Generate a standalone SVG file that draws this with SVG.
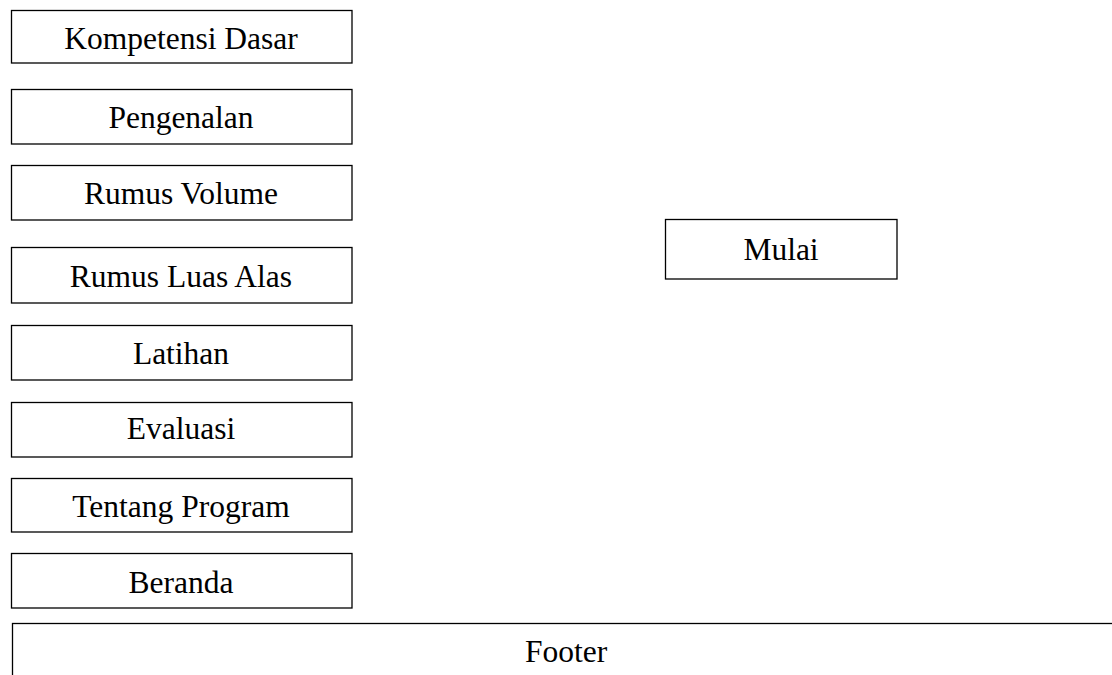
<svg xmlns="http://www.w3.org/2000/svg" width="1112" height="675" viewBox="0 0 1112 675">
  <style>
    .box { fill: #ffffff; stroke: #000000; stroke-width: 1.3; }
    .lbl { font-family: "Liberation Serif", "Times New Roman", serif; font-size: 31.5px; fill: #000000; text-anchor: middle; }
  </style>
  <rect width="1112" height="675" fill="#ffffff"/>
  <g id="node-kompetensi-dasar">
    <rect class="box" x="11.5" y="10.5" width="340.5" height="52.5"/>
    <text class="lbl" x="181" y="49">Kompetensi Dasar</text>
  </g>
  <g id="node-pengenalan">
    <rect class="box" x="11.5" y="89.5" width="340.5" height="54.5"/>
    <text class="lbl" x="181" y="128">Pengenalan</text>
  </g>
  <g id="node-rumus-volume">
    <rect class="box" x="11.5" y="165.5" width="340.5" height="54.5"/>
    <text class="lbl" x="181" y="204">Rumus Volume</text>
  </g>
  <g id="node-rumus-luas-alas">
    <rect class="box" x="11.5" y="247.5" width="340.5" height="55.5"/>
    <text class="lbl" x="181" y="287">Rumus Luas Alas</text>
  </g>
  <g id="node-latihan">
    <rect class="box" x="11.5" y="325.5" width="340.5" height="54.5"/>
    <text class="lbl" x="181" y="364">Latihan</text>
  </g>
  <g id="node-evaluasi">
    <rect class="box" x="11.5" y="402.5" width="340.5" height="54.5"/>
    <text class="lbl" x="181" y="439">Evaluasi</text>
  </g>
  <g id="node-tentang-program">
    <rect class="box" x="11.5" y="478.5" width="340.5" height="53.5"/>
    <text class="lbl" x="181" y="517">Tentang Program</text>
  </g>
  <g id="node-beranda">
    <rect class="box" x="11.5" y="553.5" width="340.5" height="54.5"/>
    <text class="lbl" x="181" y="593">Beranda</text>
  </g>
  <g id="node-mulai">
    <rect class="box" x="665.5" y="219.5" width="231.5" height="59.5"/>
    <text class="lbl" x="781" y="260">Mulai</text>
  </g>
  <g id="node-footer">
    <rect class="box" x="12.5" y="623.5" width="1110" height="80"/>
    <text class="lbl" x="566" y="662">Footer</text>
  </g>
  <g id="connectors"></g>
</svg>
